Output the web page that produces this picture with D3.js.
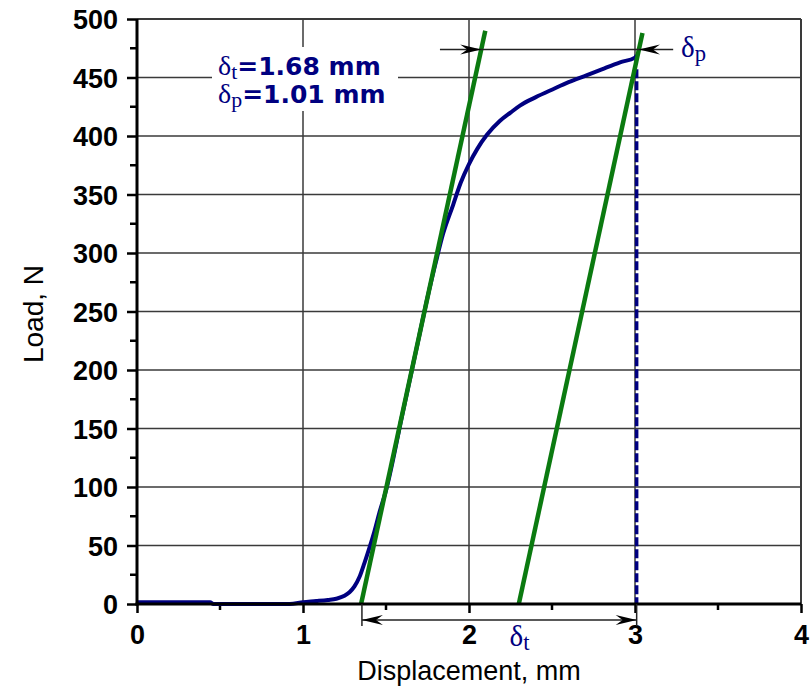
<!DOCTYPE html>
<html>
<head>
<meta charset="utf-8">
<script src="https://cdn.jsdelivr.net/npm/d3@7"></script>
<style>
  body { margin: 0; background: #fff; }
  svg { display: block; }
</style>
</head>
<body>
<div id="chart"></div>
<script>

// measured load-displacement curve (mm, N)
var disp = [0, 0.44, 0.46, 0.92, 1.0, 1.08, 1.15, 1.20, 1.25, 1.28, 1.31, 1.34, 1.37, 1.40, 1.43, 1.46, 1.50,
            1.60, 1.70, 1.75, 1.80, 1.843, 1.904, 1.95, 2.0, 2.05, 2.108, 2.187, 2.25, 2.307, 2.40, 2.506,
            2.60, 2.711, 2.80, 2.91, 3.0, 3.01];
var load = [1.5, 1.5, 0, 0, 1.5, 2.5, 3.5, 4.5, 7, 10, 15, 23, 35, 48, 62, 78, 97,
            163, 229, 262, 292, 316, 341, 360, 376, 389, 401, 413, 420, 426, 433, 440,
            446, 452, 457, 463, 467, 469];

// elastic slope lines (green)
var slopeStart = [1.35, 2.30];
var slopeTop = [490, 488];
var stiffness = 655;

var xTicks = [0, 1, 2, 3, 4];
var xMinor = [0.5, 1.5, 2.5, 3.5];
var yTicks = [0, 50, 100, 150, 200, 250, 300, 350, 400, 450, 500];
var yMinor = [25, 75, 125, 175, 225, 275, 325, 375, 425, 475];

var dropX = 3.01, dropTop = 457;
var dimTopLoad = 474;
var dimBottom = [1.355, 3.01];

var svgWidth = 812;
var svgHeight = 688;

var margin = {top: 19, right: 11, bottom: 84, left: 137};
var width = svgWidth - margin.left - margin.right;
var height = svgHeight - margin.top - margin.bottom;

var navy = "#000080";
var green = "#0b7a10";

var svg = d3.select("#chart")
  .append("svg")
  .attr("width", svgWidth)
  .attr("height", svgHeight);

var g = svg.append("g")
  .attr("transform", `translate(${margin.left}, ${margin.top})`);

var x = d3.scaleLinear().domain([0, 4]).range([0, width]);
var y = d3.scaleLinear().domain([0, 500]).range([height, 0]);

// grid
g.selectAll(".hgrid")
  .data(yTicks.slice(1))
  .enter().append("line")
  .attr("x1", 0).attr("x2", width)
  .attr("y1", d => y(d)).attr("y2", d => y(d))
  .attr("stroke", "#3a3a3a")
  .attr("stroke-width", d => d == 500 ? 2 : 1.5);

g.selectAll(".vgrid")
  .data(xTicks.slice(1))
  .enter().append("line")
  .attr("y1", 0).attr("y2", height)
  .attr("x1", d => x(d)).attr("x2", d => x(d))
  .attr("stroke", "#3a3a3a")
  .attr("stroke-width", d => d == 4 ? 2 : 1.5);

// axes
var leftAxis = d3.axisLeft(y).tickValues(yTicks).tickSize(10).tickPadding(9);
var bottomAxis = d3.axisBottom(x).tickValues(xTicks).tickFormat(d3.format("d"))
  .tickSize(9).tickPadding(12);

var ya = g.append("g").call(leftAxis);
var xa = g.append("g").attr("transform", `translate(0, ${height})`).call(bottomAxis);

[ya, xa].forEach(function(a) {
  a.select(".domain").remove();
  a.selectAll(".tick line").attr("stroke", "#000").attr("stroke-width", 2.5);
  a.selectAll(".tick text")
    .attr("fill", "#000")
    .attr("font-family", "Liberation Sans, Arial, sans-serif")
    .attr("font-weight", "bold")
    .attr("font-size", 27);
});
ya.selectAll(".tick text").attr("dy", "0.36em");

g.selectAll(".ym")
  .data(yMinor)
  .enter().append("line")
  .attr("x1", -7).attr("x2", 0)
  .attr("y1", d => y(d)).attr("y2", d => y(d))
  .attr("stroke", "#000").attr("stroke-width", 2.5);

g.selectAll(".xm")
  .data(xMinor)
  .enter().append("line")
  .attr("y1", height).attr("y2", height + 6)
  .attr("x1", d => x(d)).attr("x2", d => x(d))
  .attr("stroke", "#000").attr("stroke-width", 2.5);

// annotation box (hides grid behind text)
g.append("rect")
  .attr("x", 75).attr("y", 28)
  .attr("width", 186).attr("height", 64)
  .attr("fill", "#fff");

// curve
var curve = disp.map((d, i) => [d, load[i]]);
var line = d3.line().curve(d3.curveMonotoneX).x(d => x(d[0])).y(d => y(d[1]));

g.append("path")
  .datum(curve)
  .attr("d", line)
  .attr("fill", "none")
  .attr("stroke", navy)
  .attr("stroke-width", 4)
  .attr("stroke-linejoin", "round");

g.append("line")
  .attr("x1", x(dropX)).attr("x2", x(dropX))
  .attr("y1", y(dropTop)).attr("y2", y(0))
  .attr("stroke", navy)
  .attr("stroke-width", 3.5)
  .attr("stroke-dasharray", "9,3");

// green elastic lines
slopeStart.forEach(function(s, i) {
  g.append("line")
    .attr("x1", x(s)).attr("y1", y(0))
    .attr("x2", x(s + slopeTop[i] / stiffness)).attr("y2", y(slopeTop[i]))
    .attr("stroke", green)
    .attr("stroke-width", 4.5);
});

// axes lines (thick)
g.append("line").attr("x1", 0).attr("x2", 0).attr("y1", 0).attr("y2", height + 1.5)
  .attr("stroke", "#000").attr("stroke-width", 3);
g.append("line").attr("x1", -1.5).attr("x2", width).attr("y1", height).attr("y2", height)
  .attr("stroke", "#000").attr("stroke-width", 3);

// arrowheads
function arrowHead(tipX, tipY, dir) {
  // dir = 1 points right, -1 points left
  var p = d3.path();
  p.moveTo(tipX, tipY);
  p.lineTo(tipX - dir * 21, tipY - 5);
  p.lineTo(tipX - dir * 14, tipY);
  p.lineTo(tipX - dir * 21, tipY + 5);
  p.closePath();
  g.append("path").attr("d", p.toString()).attr("fill", "#000");
}

// top dimension line
var yTop = y(dimTopLoad);
var tip1 = x(slopeStart[0] + dimTopLoad / stiffness);
var tip2 = x(slopeStart[1] + dimTopLoad / stiffness);
g.append("line")
  .attr("x1", x(1.825)).attr("x2", x(3.23))
  .attr("y1", yTop).attr("y2", yTop)
  .attr("stroke", "#222").attr("stroke-width", 1.5);
arrowHead(tip1, yTop, 1);
arrowHead(tip2, yTop, -1);

// bottom dimension line
var yB = height + 16;
dimBottom.forEach(function(d) {
  g.append("line")
    .attr("x1", x(d)).attr("x2", x(d))
    .attr("y1", height).attr("y2", height + 22)
    .attr("stroke", "#222").attr("stroke-width", 1.5);
});
g.append("line")
  .attr("x1", x(dimBottom[0])).attr("x2", x(dimBottom[1]))
  .attr("y1", yB).attr("y2", yB)
  .attr("stroke", "#222").attr("stroke-width", 1.5);
arrowHead(x(dimBottom[0]), yB, -1);
arrowHead(x(dimBottom[1]), yB, 1);

// delta labels
function deltaLabel(px, py, sub, size) {
  var t = g.append("text")
    .attr("x", px).attr("y", py)
    .attr("fill", navy)
    .attr("font-family", "Liberation Serif, Times New Roman, serif");
  t.append("tspan").attr("font-size", size).text("δ");
  t.append("tspan").attr("font-size", size * 0.78).attr("dy", 4).text(sub);
  return t;
}

deltaLabel(x(3.0) + 46, 38, "p", 29);
deltaLabel(x(2.25) - 1, height + 42, "t", 29);

var notes = [["t", "=1.68 mm"], ["p", "=1.01 mm"]];
notes.forEach(function(n, i) {
  var t = deltaLabel(81, 56 + i * 28, n[0], 28);
  t.append("tspan")
    .attr("dy", -4)
    .attr("font-family", "DejaVu Sans, Verdana, sans-serif")
    .attr("font-weight", "bold")
    .attr("font-size", 25)
    .text(n[1]);
});

// axis titles
svg.append("text")
  .attr("x", margin.left + x(2))
  .attr("y", 680)
  .attr("text-anchor", "middle")
  .attr("font-family", "Liberation Sans, Arial, sans-serif")
  .attr("font-size", 27)
  .attr("fill", "#000")
  .text("Displacement, mm");

svg.append("text")
  .attr("transform", "translate(43, 314) rotate(-90)")
  .attr("text-anchor", "middle")
  .attr("font-family", "Liberation Sans, Arial, sans-serif")
  .attr("font-size", 28)
  .attr("fill", "#000")
  .text("Load, N");

</script>
</body>
</html>
